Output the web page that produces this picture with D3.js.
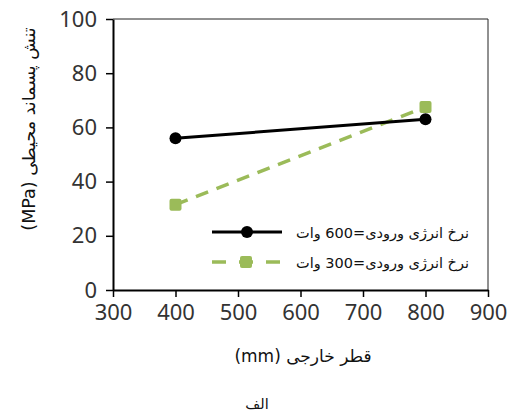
<!DOCTYPE html>
<html><head><meta charset="utf-8">
<script src="https://cdn.jsdelivr.net/npm/d3@7"></script>
<style>body{margin:0;background:#fff}svg{display:block}</style>
</head><body>
<svg id="c" width="516" height="414"></svg>
<script>
const diameters = [400, 800];
const series600 = [56, 63];
const series300 = [31.5, 67.5];
const seriesNames = ["نرخ انرژی ورودی=600 وات", "نرخ انرژی ورودی=300 وات"];
const xTicks = [300, 400, 500, 600, 700, 800, 900];
const yTicks = [0, 20, 40, 60, 80, 100];
const xTitle = "قطر خارجی (mm)";
const yTitle = "تنش پسماند محیطی (MPa)";
const caption = "الف";

const svg = d3.select("#c");
const x = d3.scaleLinear().domain([300, 900]).range([113, 488]);
const y = d3.scaleLinear().domain([0, 100]).range([290, 19]);
const numFont = "'Noto Sans', sans-serif";
const arFont = "'DejaVu Sans', sans-serif";

// frame top/right
svg.append("path").attr("d", `M${x(300)},${y(100)}H${x(900)}V${y(0)}`)
  .attr("fill", "none").attr("stroke", "#222").attr("stroke-width", 1);

const xAxis = svg.append("g").attr("transform", `translate(0,${y(0)})`)
  .call(d3.axisBottom(x).tickValues(xTicks).tickSize(7).tickPadding(7).tickSizeOuter(0));
const yAxis = svg.append("g").attr("transform", `translate(${x(300)},0)`)
  .call(d3.axisLeft(y).tickValues(yTicks).tickSize(7).tickPadding(8).tickSizeOuter(0));
[xAxis, yAxis].forEach(g => {
  g.select(".domain").attr("stroke", "#000").attr("stroke-width", 2);
  g.selectAll(".tick line").attr("stroke", "#000").attr("stroke-width", 1.5);
  g.selectAll(".tick text").attr("font-family", numFont).attr("font-size", 22).attr("fill", "#333");
});
yAxis.selectAll(".tick text").attr("dx", -1);

const line = d3.line().x((d, i) => x(diameters[i])).y(d => y(d));
const green = "#9BBB59";
svg.append("path").datum(series300).attr("d", line).attr("fill", "none")
  .attr("stroke", green).attr("stroke-width", 3.5).attr("stroke-dasharray", "13,9");
svg.append("path").datum(series600).attr("d", line).attr("fill", "none")
  .attr("stroke", "#000").attr("stroke-width", 3);
svg.selectAll(".m6").data(series600).enter().append("circle")
  .attr("cx", (d, i) => x(diameters[i])).attr("cy", d => y(d)).attr("r", 6).attr("fill", "#000");
svg.selectAll(".m3").data(series300).enter().append("rect")
  .attr("x", (d, i) => x(diameters[i]) - 6).attr("y", d => y(d) - 6)
  .attr("width", 12).attr("height", 12).attr("rx", 2).attr("fill", green);

// legend
const leg = [{c: "#000", m: "circle"}, {c: green, m: "rect"}];
leg.forEach((l, i) => {
  const ly = 232 + i * 30;
  svg.append("line").attr("x1", 212).attr("x2", 282).attr("y1", ly).attr("y2", ly)
    .attr("stroke", l.c).attr("stroke-width", l.m === "circle" ? 3 : 3.5)
    .attr("stroke-dasharray", l.m === "circle" ? null : "14,13");
  if (l.m === "circle") svg.append("circle").attr("cx", 247).attr("cy", ly).attr("r", 6).attr("fill", l.c);
  else svg.append("rect").attr("x", 240).attr("y", ly - 6).attr("width", 12).attr("height", 12).attr("rx", 2).attr("fill", l.c);
  svg.append("text").attr("x", 469).attr("y", ly + 6).attr("direction", "rtl")
    .attr("text-anchor", "start").attr("font-family", arFont).attr("font-size", 14.5).attr("fill", "#111")
    .text(seriesNames[i]);
});

svg.append("text").attr("x", 303).attr("y", 362).attr("direction", "rtl").attr("text-anchor", "middle")
  .attr("font-family", arFont).attr("font-size", 17).attr("fill", "#111").text(xTitle);
svg.append("text").attr("transform", "translate(35,129) rotate(-90)").attr("direction", "rtl")
  .attr("text-anchor", "middle").attr("font-family", arFont).attr("font-size", 17.5).attr("fill", "#111").text(yTitle);
svg.append("text").attr("x", 257).attr("y", 409).attr("direction", "rtl").attr("text-anchor", "middle")
  .attr("font-family", arFont).attr("font-size", 14.5).attr("fill", "#111").text(caption);
</script>
</body></html>
